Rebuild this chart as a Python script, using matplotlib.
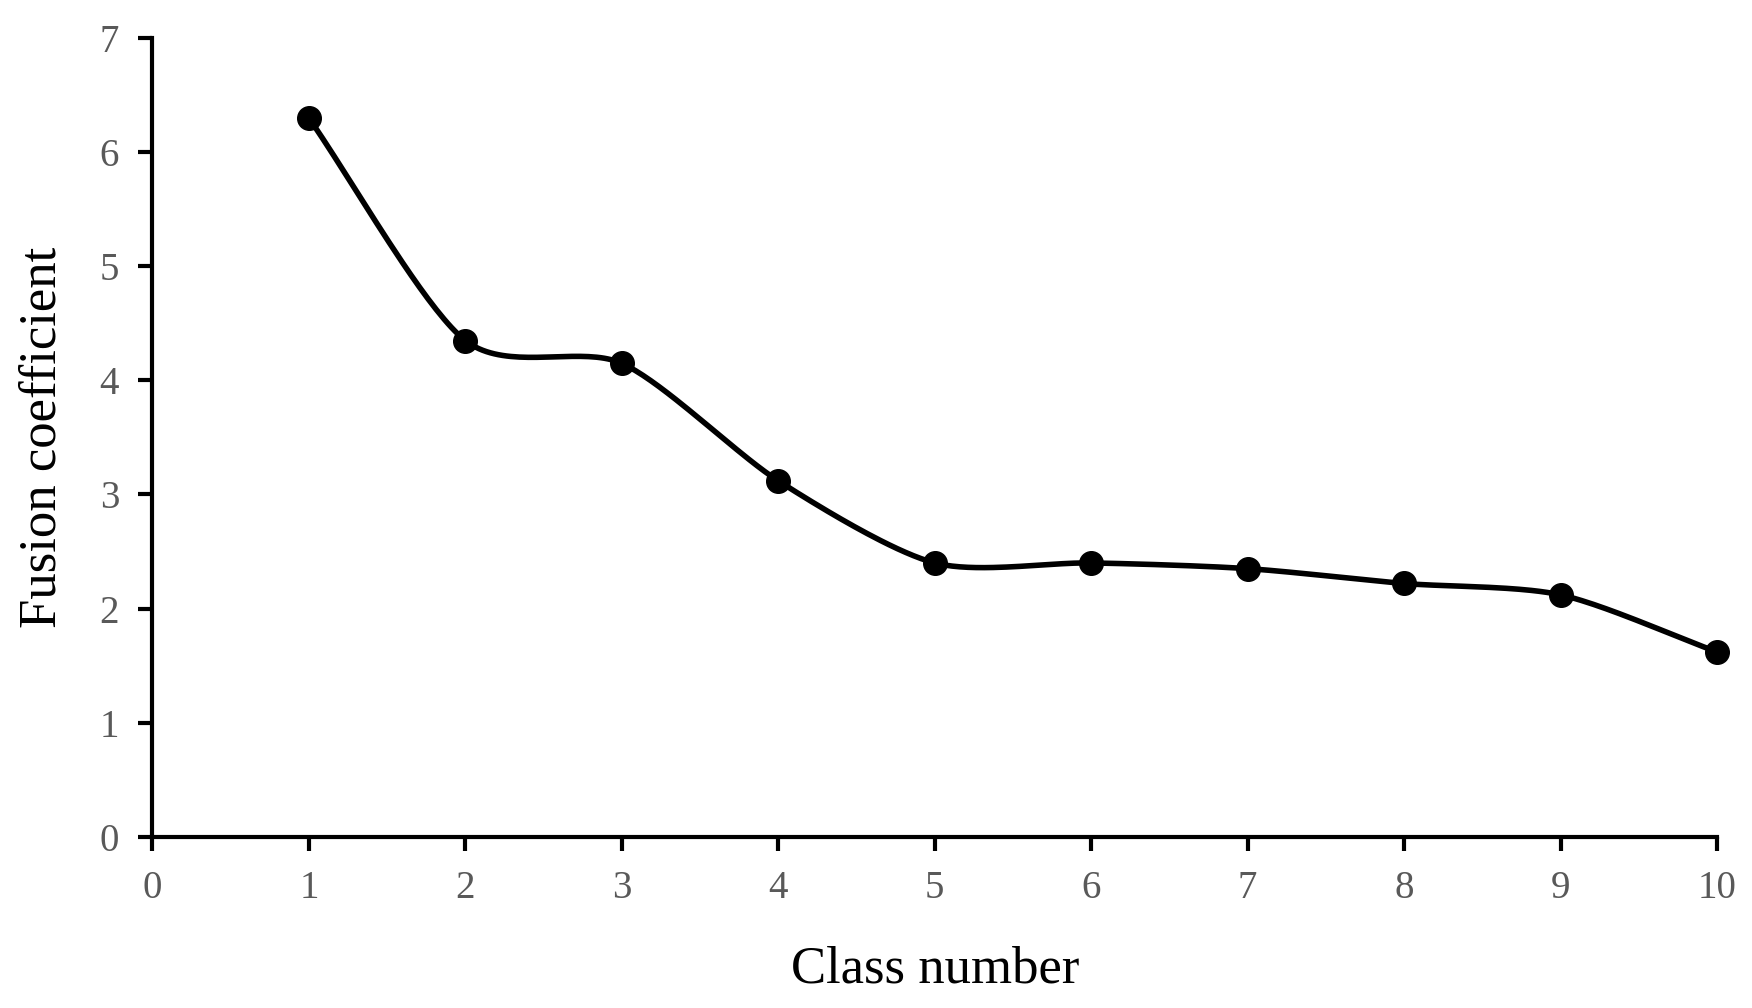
import numpy as np
import matplotlib
matplotlib.use("Agg")
import matplotlib.pyplot as plt

classes = [1, 2, 3, 4, 5, 6, 7, 8, 9, 10]
fusion = [6.3, 4.35, 4.15, 3.12, 2.4, 2.4, 2.35, 2.22, 2.12, 1.62]

def smooth(x, y, n=40, k=0.8):
    x = np.asarray(x, float); y = np.asarray(y, float)
    px = np.concatenate([[2*x[0]-x[1]], x, [2*x[-1]-x[-2]]])
    py = np.concatenate([[2*y[0]-y[1]], y, [2*y[-1]-y[-2]]])
    xs, ys = [], []
    t = np.linspace(0, 1, n)
    for i in range(1, len(px)-2):
        for p, out in ((px, xs), (py, ys)):
            p1, p2 = p[i], p[i+1]
            m1 = k*0.5*(p[i+1]-p[i-1]); m2 = k*0.5*(p[i+2]-p[i])
            h00 = 2*t**3-3*t**2+1; h10 = t**3-2*t**2+t; h01 = -2*t**3+3*t**2; h11 = t**3-t**2
            out.append(h00*p1 + h10*m1 + h01*p2 + h11*m2)
    return np.concatenate(xs), np.concatenate(ys)

fig = plt.figure(figsize=(17.52, 10.08), dpi=100)
ax = fig.add_axes([0.087, 0.17, 0.893, 0.792])
sx, sy = smooth(classes, fusion)
ax.plot(sx, sy, color='black', lw=4, zorder=2, clip_on=False)
ax.plot(classes, fusion, 'o', color='black', ms=17, zorder=3, clip_on=False)
ax.set_xlim(0, 10); ax.set_ylim(0, 7)
ax.set_xticks(range(0, 11)); ax.set_yticks(range(0, 8))
for s in ('top', 'right'):
    ax.spines[s].set_visible(False)
for s in ('left', 'bottom'):
    ax.spines[s].set_linewidth(3)
ax.tick_params(direction='out', length=10, width=3, labelsize=28, labelcolor='#595959', pad=14)
for lab in ax.get_xticklabels() + ax.get_yticklabels():
    lab.set_family('Liberation Serif')
ax.set_xlabel('Class number', fontsize=38, family='Liberation Serif', labelpad=28)
ax.set_ylabel('Fusion coefficient', fontsize=38, family='Liberation Serif', labelpad=24)
fig.savefig('out.png', dpi=100, facecolor='white')
